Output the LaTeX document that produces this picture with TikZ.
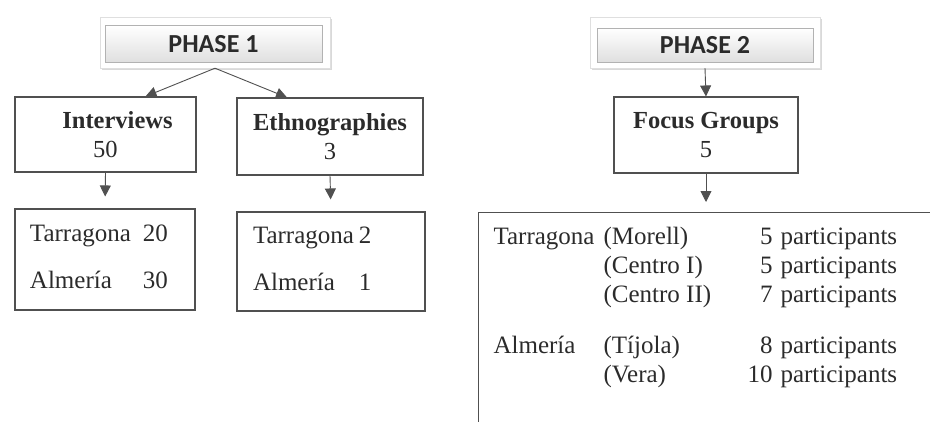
\documentclass[tikz,border=0pt]{standalone}
\usepackage{fontspec}
\setmainfont{Liberation Serif}
\newfontfamily\phasefont{Carlito}
\usetikzlibrary{arrows.meta,positioning,shadows}
\definecolor{BoxLine}{HTML}{505050}
\definecolor{InkText}{HTML}{2B2B2B}

\begin{document}
\begin{tikzpicture}[x=1pt,y=-1pt,
  font=\fontsize{25pt}{29pt}\selectfont,text=InkText,
  frame/.style={draw=gray!25,fill=white,drop shadow={opacity=0.3,shadow xshift=2pt,shadow yshift=-2pt}},
  phase/.style={draw=gray!60,top color=white,bottom color=gray!25,font=\phasefont\fontsize{26pt}{30pt}\selectfont\bfseries},
  box/.style={draw=BoxLine,line width=1.1pt,inner sep=0pt},
  flow/.style={draw=BoxLine,line width=0.9pt,-{Triangle[length=11pt,width=11pt]}}]
\useasboundingbox (0,0) rectangle (930,421);
\clip (0,0) rectangle (930,421);
% phase headers
\node[frame,minimum width=230pt,minimum height=51pt] (phaseAframe) at (215,42.5) {};
\node[phase,minimum width=217pt,minimum height=37pt] (phaseA) at (213.5,44) {PHASE 1};
\node[frame,minimum width=230pt,minimum height=51pt] (phaseBframe) at (705,42.5) {};
\node[phase,minimum width=216pt,minimum height=34pt] (phaseB) at (705,45) {PHASE 2};
% methods
\node[box,minimum width=181pt,minimum height=75pt,align=center,font=\fontsize{24.5pt}{29pt}\selectfont] (interviews) at (105.5,134.5) {\hspace*{24pt}\textbf{Interviews}\\50};
\node[box,minimum width=186pt,minimum height=77pt,align=center,font=\fontsize{24.5pt}{29pt}\selectfont] (ethno) at (330,136.5) {\textbf{Ethnographies}\\3};
\node[box,minimum width=184pt,minimum height=76pt,align=center,font=\fontsize{24.5pt}{29pt}\selectfont] (focus) at (706,135) {\textbf{Focus Groups}\\5};
% places
\node[box,minimum width=180pt,minimum height=101pt,text width=150pt,align=left] (lowA) at (105,259.5)
  {\begin{tabular}{@{}l@{\hspace{12pt}}l@{}}Tarragona & 20\\[18pt] Almería & 30\end{tabular}};
\node[box,minimum width=188pt,minimum height=99pt,text width=156pt,align=left] (lowB) at (331,261.5)
  {\begin{tabular}{@{}l@{\hspace{5pt}}l@{}}Tarragona & 2\\[18pt] Almería & 1\end{tabular}};
\node[box,anchor=north west,inner xsep=15pt,inner ysep=12pt] (groups) at (478,212)
  {\begin{tabular}{@{}p{110pt}@{}p{144pt}@{}r@{\hspace{8pt}}l@{\hspace{30pt}}}
   Tarragona & (Morell) & 5 & participants\\
    & (Centro I) & 5 & participants\\
    & (Centro II) & 7 & participants\\[22pt]
   Almería & (Tíjola) & 8 & participants\\
    & (Vera) & 10 & participants\\[40pt]
   \end{tabular}};
% connectors
\draw[flow] (phaseAframe.south) -- ([xshift=40pt]interviews.north);
\draw[flow] (phaseAframe.south) -- ([xshift=-43pt]ethno.north);
\draw[flow] (phaseBframe.south) -- (focus.north);
\draw[flow,shorten >=12pt] (interviews.south) -- (lowA.north);
\draw[flow,shorten >=12pt] (ethno.south) -- (lowB.north);
\draw[flow,shorten >=10pt] (focus.south) -- (focus.south |- groups.north);
\end{tikzpicture}
\end{document}
